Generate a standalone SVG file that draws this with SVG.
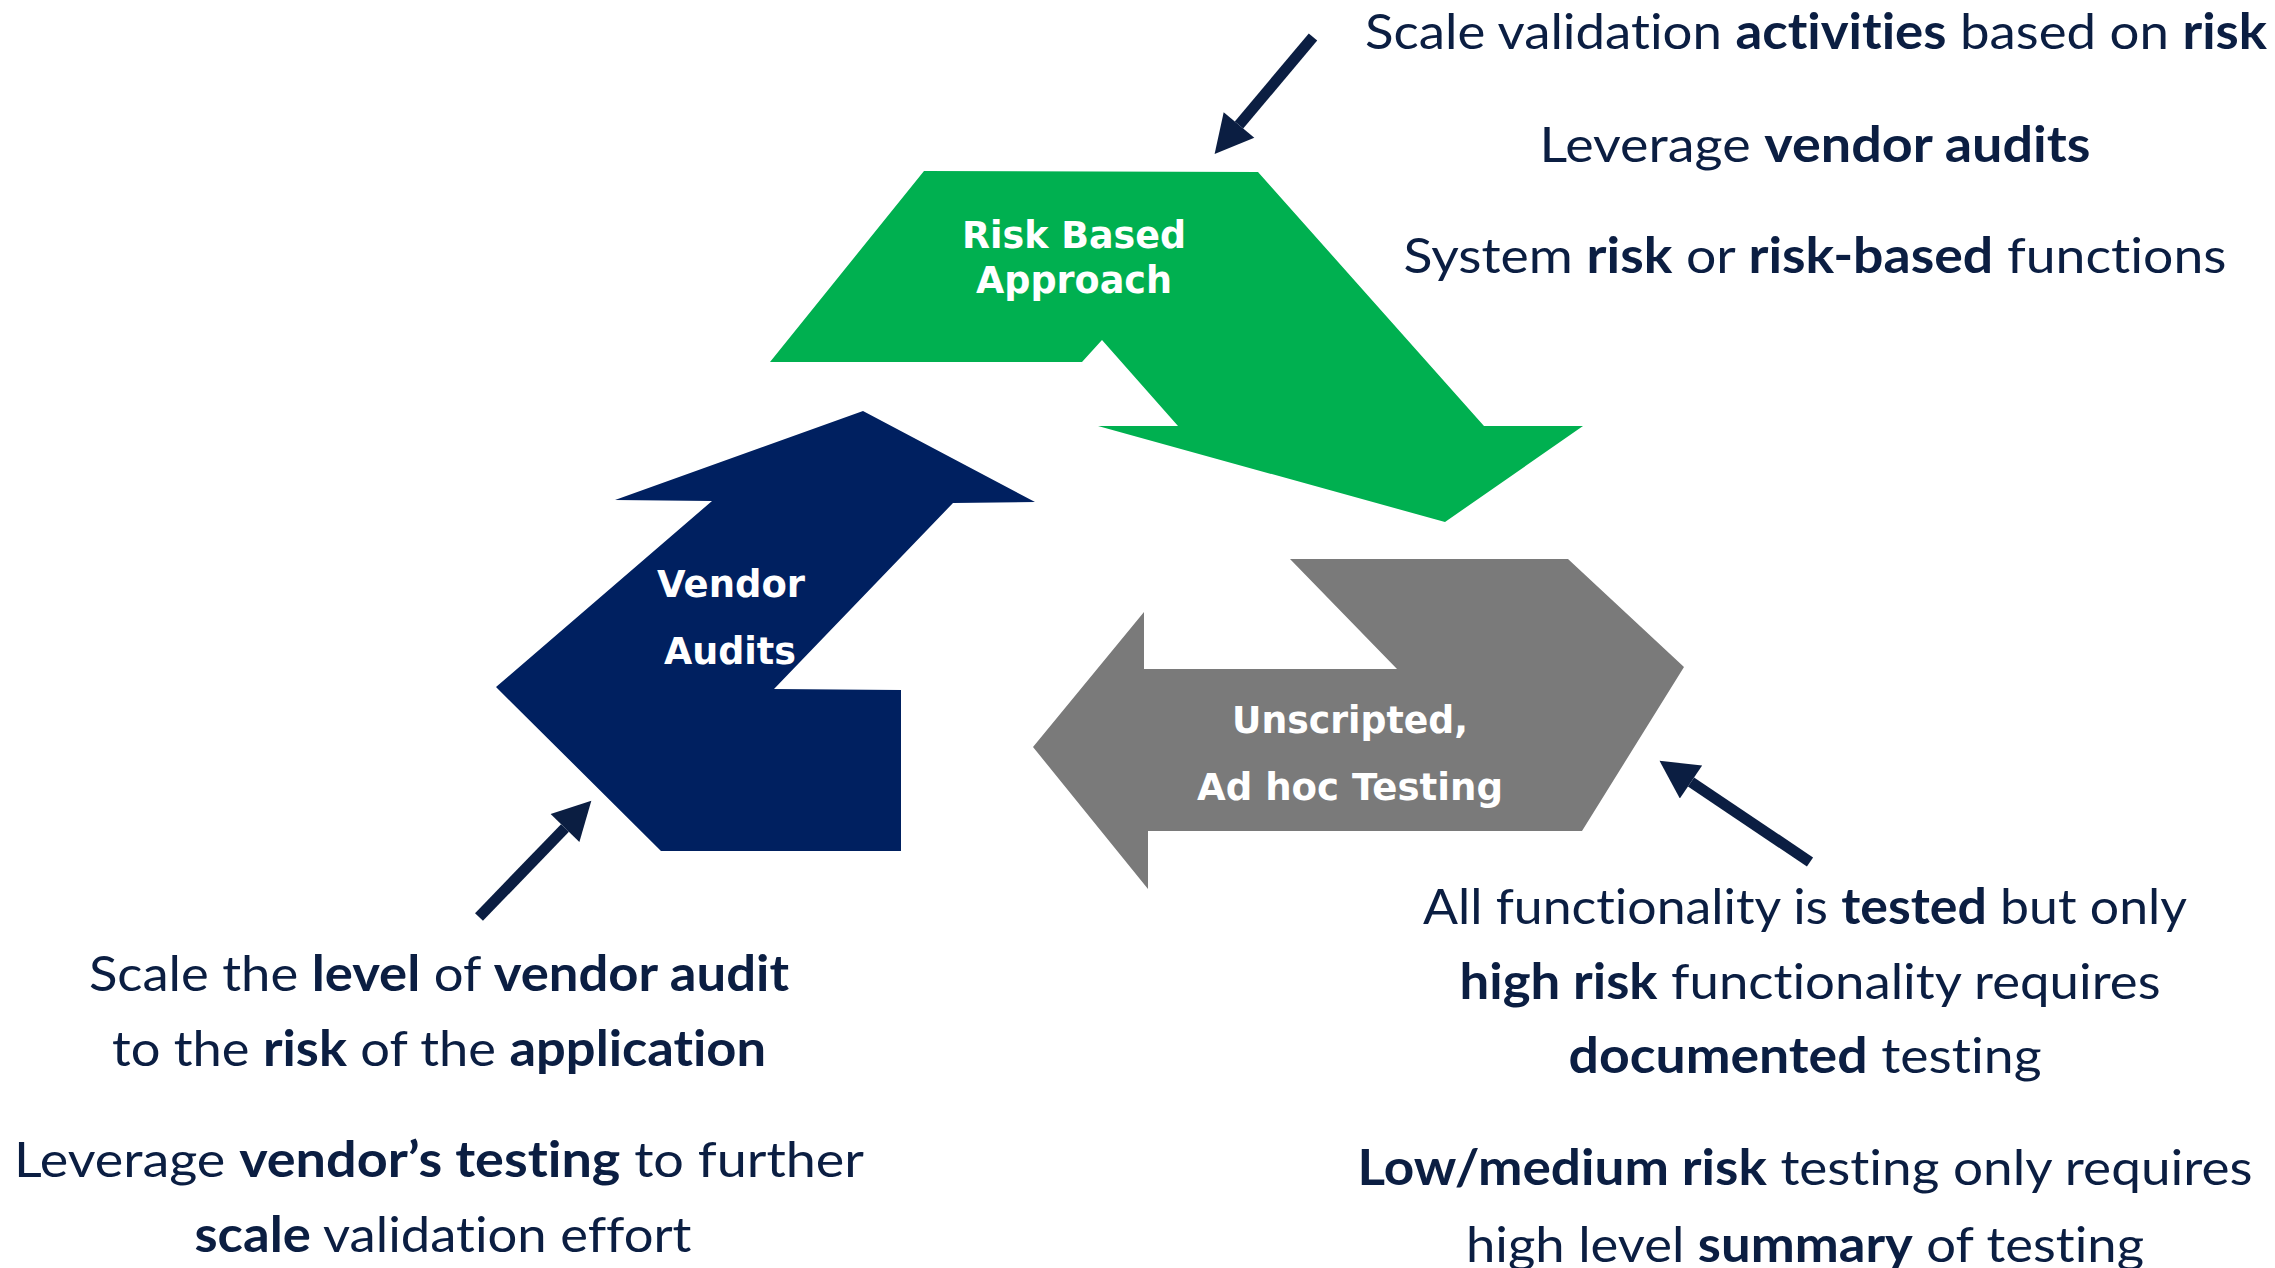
<svg xmlns="http://www.w3.org/2000/svg" width="2275" height="1268" viewBox="0 0 2275 1268">
<defs>
<style>
.note{font-family:Lato,"Liberation Sans",sans-serif;font-size:49px;fill:#0B1E42;text-anchor:middle;font-variant-ligatures:none}
.b{font-weight:bold}
.lbl{font-family:"DejaVu Sans",Verdana,sans-serif;font-weight:bold;font-size:37px;fill:#FFFFFF;text-anchor:middle}
.call{stroke:#0B1E42;stroke-width:11;fill:none;marker-end:url(#head)}
</style>
<marker id="head" markerUnits="userSpaceOnUse" markerWidth="40" markerHeight="40" refX="0" refY="19" orient="auto" viewBox="0 0 36 38">
<path d="M0,0 L36,19 L0,38 Z" fill="#0B1E42"/>
</marker>
</defs>
<rect width="2275" height="1268" fill="#FFFFFF"/>

<g id="risk-based-approach">
<polygon points="924,171 1258,172 1484,426 1583,426 1445,522 1098,426 1178,426 1102,340 1082,362 770,362" fill="#00B050"/>
<text class="lbl" x="1074" y="248" textLength="224" lengthAdjust="spacingAndGlyphs">Risk Based</text>
<text class="lbl" x="1074" y="293" textLength="196" lengthAdjust="spacingAndGlyphs">Approach</text>
</g>

<g id="vendor-audits">
<polygon points="863,411 1035,502 953,503 774,689 901,690 901,851 661,851 496,687 712,501 615,500" fill="#002060"/>
<text class="lbl" x="731" y="597" textLength="148" lengthAdjust="spacingAndGlyphs">Vendor</text>
<text class="lbl" x="730" y="664" textLength="132" lengthAdjust="spacingAndGlyphs">Audits</text>
</g>

<g id="adhoc-testing">
<polygon points="1290,559 1568,559 1684,667 1582,831 1148,831 1148,889 1033,747 1144,612 1144,669 1397,669" fill="#7A7A7A"/>
<text class="lbl" x="1350" y="733" textLength="236" lengthAdjust="spacingAndGlyphs">Unscripted,</text>
<text class="lbl" x="1350" y="800" textLength="306" lengthAdjust="spacingAndGlyphs">Ad hoc Testing</text>
</g>

<g id="connectors">
<line class="call" x1="1313" y1="37" x2="1239" y2="125"/>
<line class="call" x1="479" y1="917" x2="565" y2="828"/>
<line class="call" x1="1810" y1="862" x2="1691" y2="782"/>
</g>

<g id="notes-top">
<text class="note" x="1816" y="49" textLength="902" lengthAdjust="spacingAndGlyphs">Scale validation <tspan class="b">activities</tspan> based on <tspan class="b">risk</tspan></text>
<text class="note" x="1815" y="162" textLength="551" lengthAdjust="spacingAndGlyphs">Leverage <tspan class="b">vendor audits</tspan></text>
<text class="note" x="1815" y="273" textLength="823" lengthAdjust="spacingAndGlyphs">System <tspan class="b">risk</tspan> or <tspan class="b">risk-based</tspan> functions</text>
</g>

<g id="notes-left">
<text class="note" x="439" y="991" textLength="700" lengthAdjust="spacingAndGlyphs">Scale the <tspan class="b">level</tspan> of <tspan class="b">vendor audit</tspan></text>
<text class="note" x="439" y="1066" textLength="654" lengthAdjust="spacingAndGlyphs">to the <tspan class="b">risk</tspan> of the <tspan class="b">application</tspan></text>
<text class="note" x="439" y="1177" textLength="850" lengthAdjust="spacingAndGlyphs">Leverage <tspan class="b">vendor’s testing</tspan> to further</text>
<text class="note" x="443" y="1252" textLength="497" lengthAdjust="spacingAndGlyphs"><tspan class="b">scale</tspan> validation effort</text>
</g>

<g id="notes-right">
<text class="note" x="1805" y="924" textLength="764" lengthAdjust="spacingAndGlyphs">All functionality is <tspan class="b">tested</tspan> but only</text>
<text class="note" x="1810" y="999" textLength="701" lengthAdjust="spacingAndGlyphs"><tspan class="b">high risk</tspan> functionality requires</text>
<text class="note" x="1805" y="1073" textLength="473" lengthAdjust="spacingAndGlyphs"><tspan class="b">documented</tspan> testing</text>
<text class="note" x="1805" y="1185" textLength="895" lengthAdjust="spacingAndGlyphs"><tspan class="b">Low/medium risk</tspan> testing only requires</text>
<text class="note" x="1805" y="1262" textLength="678" lengthAdjust="spacingAndGlyphs">high level <tspan class="b">summary</tspan> of testing</text>
</g>
</svg>
